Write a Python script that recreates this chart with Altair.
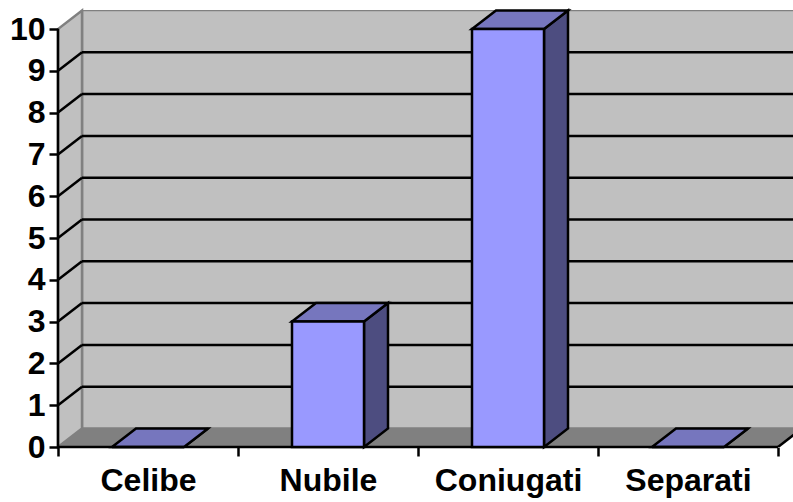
import altair as alt
import pandas as pd

categories = ["Celibe", "Nubile", "Coniugati", "Separati"]
values = [0, 3, 10, 0]
y_ticks = list(range(0, 11))

# Box geometry, in data units (one category across, one count up)
DX = 24 / 180
DY = 18.5 / 41.8
BAR_L = 0.3
BAR_R = 0.7
N = len(categories)
Y_MAX = 437 / 41.8
X_MAX = 735 / 180

x_scale = alt.Scale(domain=[0, X_MAX], nice=False, zero=False)
y_scale = alt.Scale(domain=[0, Y_MAX], nice=False, zero=False)

WALL = "#C0C0C0"
FLOOR = "#808080"
EDGE = "#808080"
FRONT = "#9999FF"
TOP = "#7676BE"
SIDE = "#4D4D80"
LINE = 2.5


def xq(field):
    return alt.X(field, type="quantitative", scale=x_scale, title=None)


def yq(field):
    return alt.Y(field, type="quantitative", scale=y_scale, title=None, stack=None)


x2 = lambda f: alt.X2(field=f)
y2 = lambda f: alt.Y2(field=f)


def slanted_side(rows, **mark):
    """Parallelogram with vertical edges: columns x, lo, hi, id."""
    return alt.Chart(pd.DataFrame(rows)).mark_area(**mark).encode(
        x=xq("x"), y=yq("lo"), y2=y2("hi"), detail=alt.Detail("id:N"))


def slanted_flat(rows, **mark):
    """Parallelogram with horizontal edges: columns y, a, b, id."""
    return alt.Chart(pd.DataFrame(rows)).mark_area(orient="horizontal", **mark).encode(
        y=yq("y"), x=xq("a"), x2=x2("b"), detail=alt.Detail("id:N"))


# Back wall, left wall and floor
back_wall = alt.Chart(pd.DataFrame([{"a": DX, "b": N + DX, "lo": DY, "hi": Y_MAX}])).mark_rect(
    fill=WALL, stroke=EDGE, strokeWidth=LINE, clip=True
).encode(x=xq("a"), x2=x2("b"), y=yq("lo"), y2=y2("hi"))

left_wall = slanted_side(
    [{"x": 0, "lo": 0, "hi": 10, "id": 0}, {"x": DX, "lo": DY, "hi": 10 + DY, "id": 0}],
    fill=WALL, stroke=EDGE, strokeWidth=LINE,
)

floor = slanted_flat(
    [{"y": 0, "a": 0, "b": N, "id": 0}, {"y": DY, "a": DX, "b": N + DX, "id": 0}],
    fill=FLOOR, clip=True,
)

floor_end = alt.Chart(pd.DataFrame([{"x": N, "y": 0}, {"x": N + DX, "y": DY}])).mark_line(
    color="black", strokeWidth=LINE, clip=True
).encode(x=xq("x"), y=yq("y"))

# Gridlines on both walls
grid_levels = y_ticks[1:-1]
grid_back = alt.Chart(pd.DataFrame(
    [{"a": DX, "b": N + DX, "y": v + DY} for v in grid_levels]
)).mark_rule(color="black", strokeWidth=LINE, clip=True).encode(x=xq("a"), x2=x2("b"), y=yq("y"))

grid_side = alt.Chart(pd.DataFrame(
    [{"x": 0, "y": v, "id": v} for v in grid_levels]
    + [{"x": DX, "y": v + DY, "id": v} for v in grid_levels]
)).mark_line(color="black", strokeWidth=LINE).encode(
    x=xq("x"), y=yq("y"), detail=alt.Detail("id:N"))

# Front edges of the box
axis_rows = pd.DataFrame([{"a": 0, "b": N, "y0": 0, "y1": 10}])
x_edge = alt.Chart(axis_rows).mark_rule(color="black", strokeWidth=LINE).encode(
    x=xq("a"), x2=x2("b"), y=yq("y0"))
y_edge = alt.Chart(axis_rows).mark_rule(color="black", strokeWidth=LINE).encode(
    x=xq("a"), y=yq("y0"), y2=y2("y1"))

# Columns: front, top and side faces
top_rows, side_rows, front_rows = [], [], []
for i, v in enumerate(values):
    l, r = i + BAR_L, i + BAR_R
    front_rows.append({"a": l, "b": r, "lo": 0, "hi": v})
    top_rows += [{"y": v, "a": l, "b": r, "id": i},
                 {"y": v + DY, "a": l + DX, "b": r + DX, "id": i}]
    side_rows += [{"x": r, "lo": 0, "hi": v, "id": i},
                  {"x": r + DX, "lo": DY, "hi": v + DY, "id": i}]

bar_style = dict(stroke="black", strokeWidth=LINE, strokeJoin="miter")
bar_side = slanted_side(side_rows, fill=SIDE, **bar_style)
bar_top = slanted_flat(top_rows, fill=TOP, **bar_style)
bar_front = alt.Chart(pd.DataFrame(front_rows)).mark_rect(fill=FRONT, **bar_style).encode(
    x=xq("a"), x2=x2("b"), y=yq("lo"), y2=y2("hi"))

# Axes: ticks on the category boundaries, names midway between them
name_map = ",".join(f"'{i + 0.5}':'{c}'" for i, c in enumerate(categories))
x_values = [k / 2 for k in range(0, 2 * N + 1)]
axes = alt.Chart(pd.DataFrame([{"x": 0, "y": 0}])).mark_point(opacity=0).encode(
    x=alt.X("x:Q", scale=x_scale, title=None, axis=alt.Axis(
        values=x_values,
        labelExpr="{" + name_map + "}[datum.value] || ''",
        labelOverlap=False, labelBound=False, labelFlush=False,
        labelFont="Liberation Sans", labelFontWeight="bold", labelFontSize=32,
        labelColor="black", labelPadding=9,
        domain=False, grid=False, tickSize=9, tickWidth=LINE, tickColor="black",
        tickOpacity=alt.condition("datum.value % 1 == 0", alt.value(1), alt.value(0)),
        zindex=1,
    )),
    y=alt.Y("y:Q", scale=y_scale, title=None, axis=alt.Axis(
        values=y_ticks,
        labelFont="Liberation Sans", labelFontWeight="bold", labelFontSize=32,
        labelColor="black", labelPadding=4, labelOverlap=False, labelBound=False, labelFlush=False,
        domain=False, grid=False, tickSize=9, tickWidth=LINE, tickColor="black",
        zindex=1,
    )),
)

chart = alt.layer(
    axes, back_wall, left_wall, floor, floor_end, grid_back, grid_side,
    x_edge, y_edge, bar_side, bar_top, bar_front,
).properties(
    width=735,
    height=437,
    padding={"left": 58, "top": 10, "right": 0, "bottom": 55},
    autosize=alt.AutoSizeParams(type="none"),
    background="white",
).configure_view(stroke=None)

chart.save("out.html", embed_options={"renderer": "svg", "actions": False})
